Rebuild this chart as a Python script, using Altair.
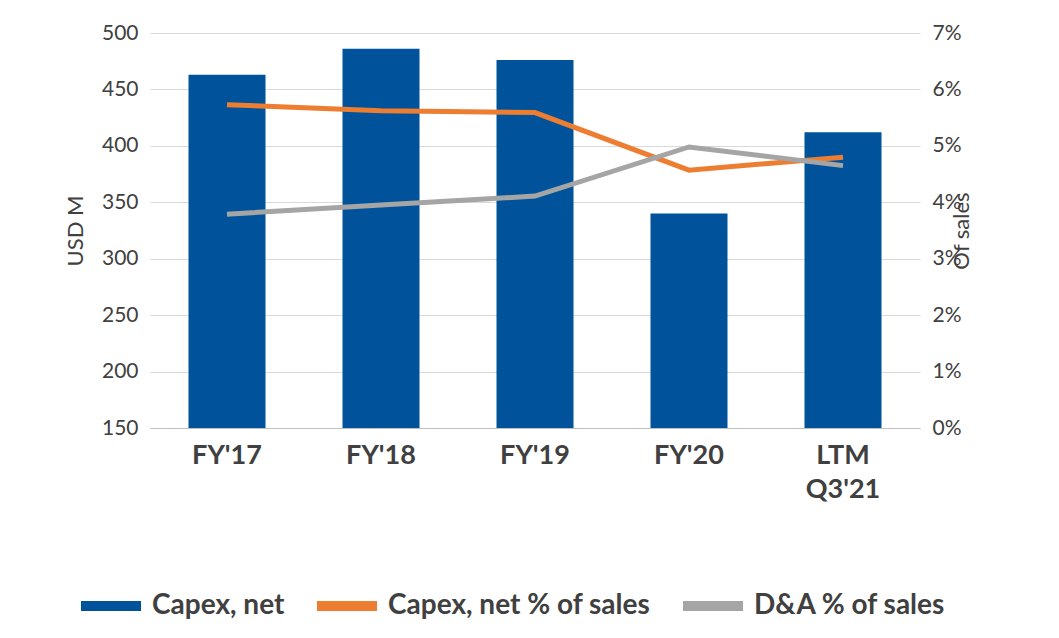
import altair as alt
import pandas as pd

periods = ["FY'17", "FY'18", "FY'19", "FY'20", "LTM Q3'21"]
capex = [463, 486, 476, 340, 412]
capex_pct = [0.0573, 0.0562, 0.0559, 0.0457, 0.0480]
da_pct = [0.0379, 0.0395, 0.0411, 0.0498, 0.0465]

series = ["Capex, net", "Capex, net % of sales", "D&A % of sales"]
colors = ["#00539B", "#ED7D31", "#A5A5A5"]

bars_df = pd.DataFrame({"period": periods, "value": capex, "series": series[0]})
lines_df = pd.concat([
    pd.DataFrame({"period": periods, "pct": capex_pct, "series": series[1]}),
    pd.DataFrame({"period": periods, "pct": da_pct, "series": series[2]}),
])

font = "Lato"
color = alt.Color(
    "series:N",
    scale=alt.Scale(domain=series, range=colors),
    legend=alt.Legend(
        title=None, orient="none", direction="horizontal", legendX=-74, legendY=538,
        symbolType="stroke", symbolStrokeWidth=10, symbolSize=3600,
        labelFont=font, labelFontSize=28, labelFontWeight="bold", labelColor="#404040",
        labelLimit=400, columnPadding=12, labelOffset=6, symbolOpacity=1,
    ),
)

x = alt.X(
    "period:N", sort=periods, title=None,
    scale=alt.Scale(paddingInner=0.5, paddingOuter=0.25),
    axis=alt.Axis(labelAngle=0, labelFont=font, labelFontSize=27, labelFontWeight="bold",
                  labelColor="#404040", labelPadding=14, ticks=False, domainColor="#BFBFBF",
                  labelExpr="split(datum.label, ' ')", labelLineHeight=34),
)

bars = alt.Chart(bars_df).mark_bar(color=colors[0]).encode(
    x=x,
    y=alt.Y("value:Q", scale=alt.Scale(domain=[150, 500], zero=False, nice=False),
            title="USD M",
            axis=alt.Axis(values=list(range(150, 501, 50)), labelFont=font, labelFontSize=21,
                          labelColor="#404040", titleFont=font, titleFontSize=22,
                          titleFontWeight="normal", titleColor="#404040", ticks=False,
                          domain=False, gridColor="#D9D9D9", labelPadding=12, titlePadding=14)),
    y2=alt.datum(150),
    color=color,
)

lines = alt.Chart(lines_df).mark_line(strokeWidth=5).encode(
    x=x,
    y=alt.Y("pct:Q", scale=alt.Scale(domain=[0, 0.07], nice=False), title="Of sales",
            axis=alt.Axis(orient="right", format=".0%", values=[i / 100 for i in range(8)],
                          labelFont=font, labelFontSize=21, labelColor="#404040",
                          titleFont=font, titleFontSize=22, titleFontWeight="normal",
                          titleColor="#404040", titleAngle=270, ticks=False, domain=False,
                          grid=False, labelPadding=12, titlePadding=12)),
    color=color,
)

chart = (
    alt.layer(bars, lines)
    .resolve_scale(y="independent")
    .properties(width=770, height=395,
                autosize=alt.AutoSizeParams(type="none"),
                padding={"left": 142, "top": 25, "right": 131, "bottom": 200})
    .configure_view(stroke=None)
)

chart.save("out.html", embed_options={"renderer": "svg", "actions": False})
